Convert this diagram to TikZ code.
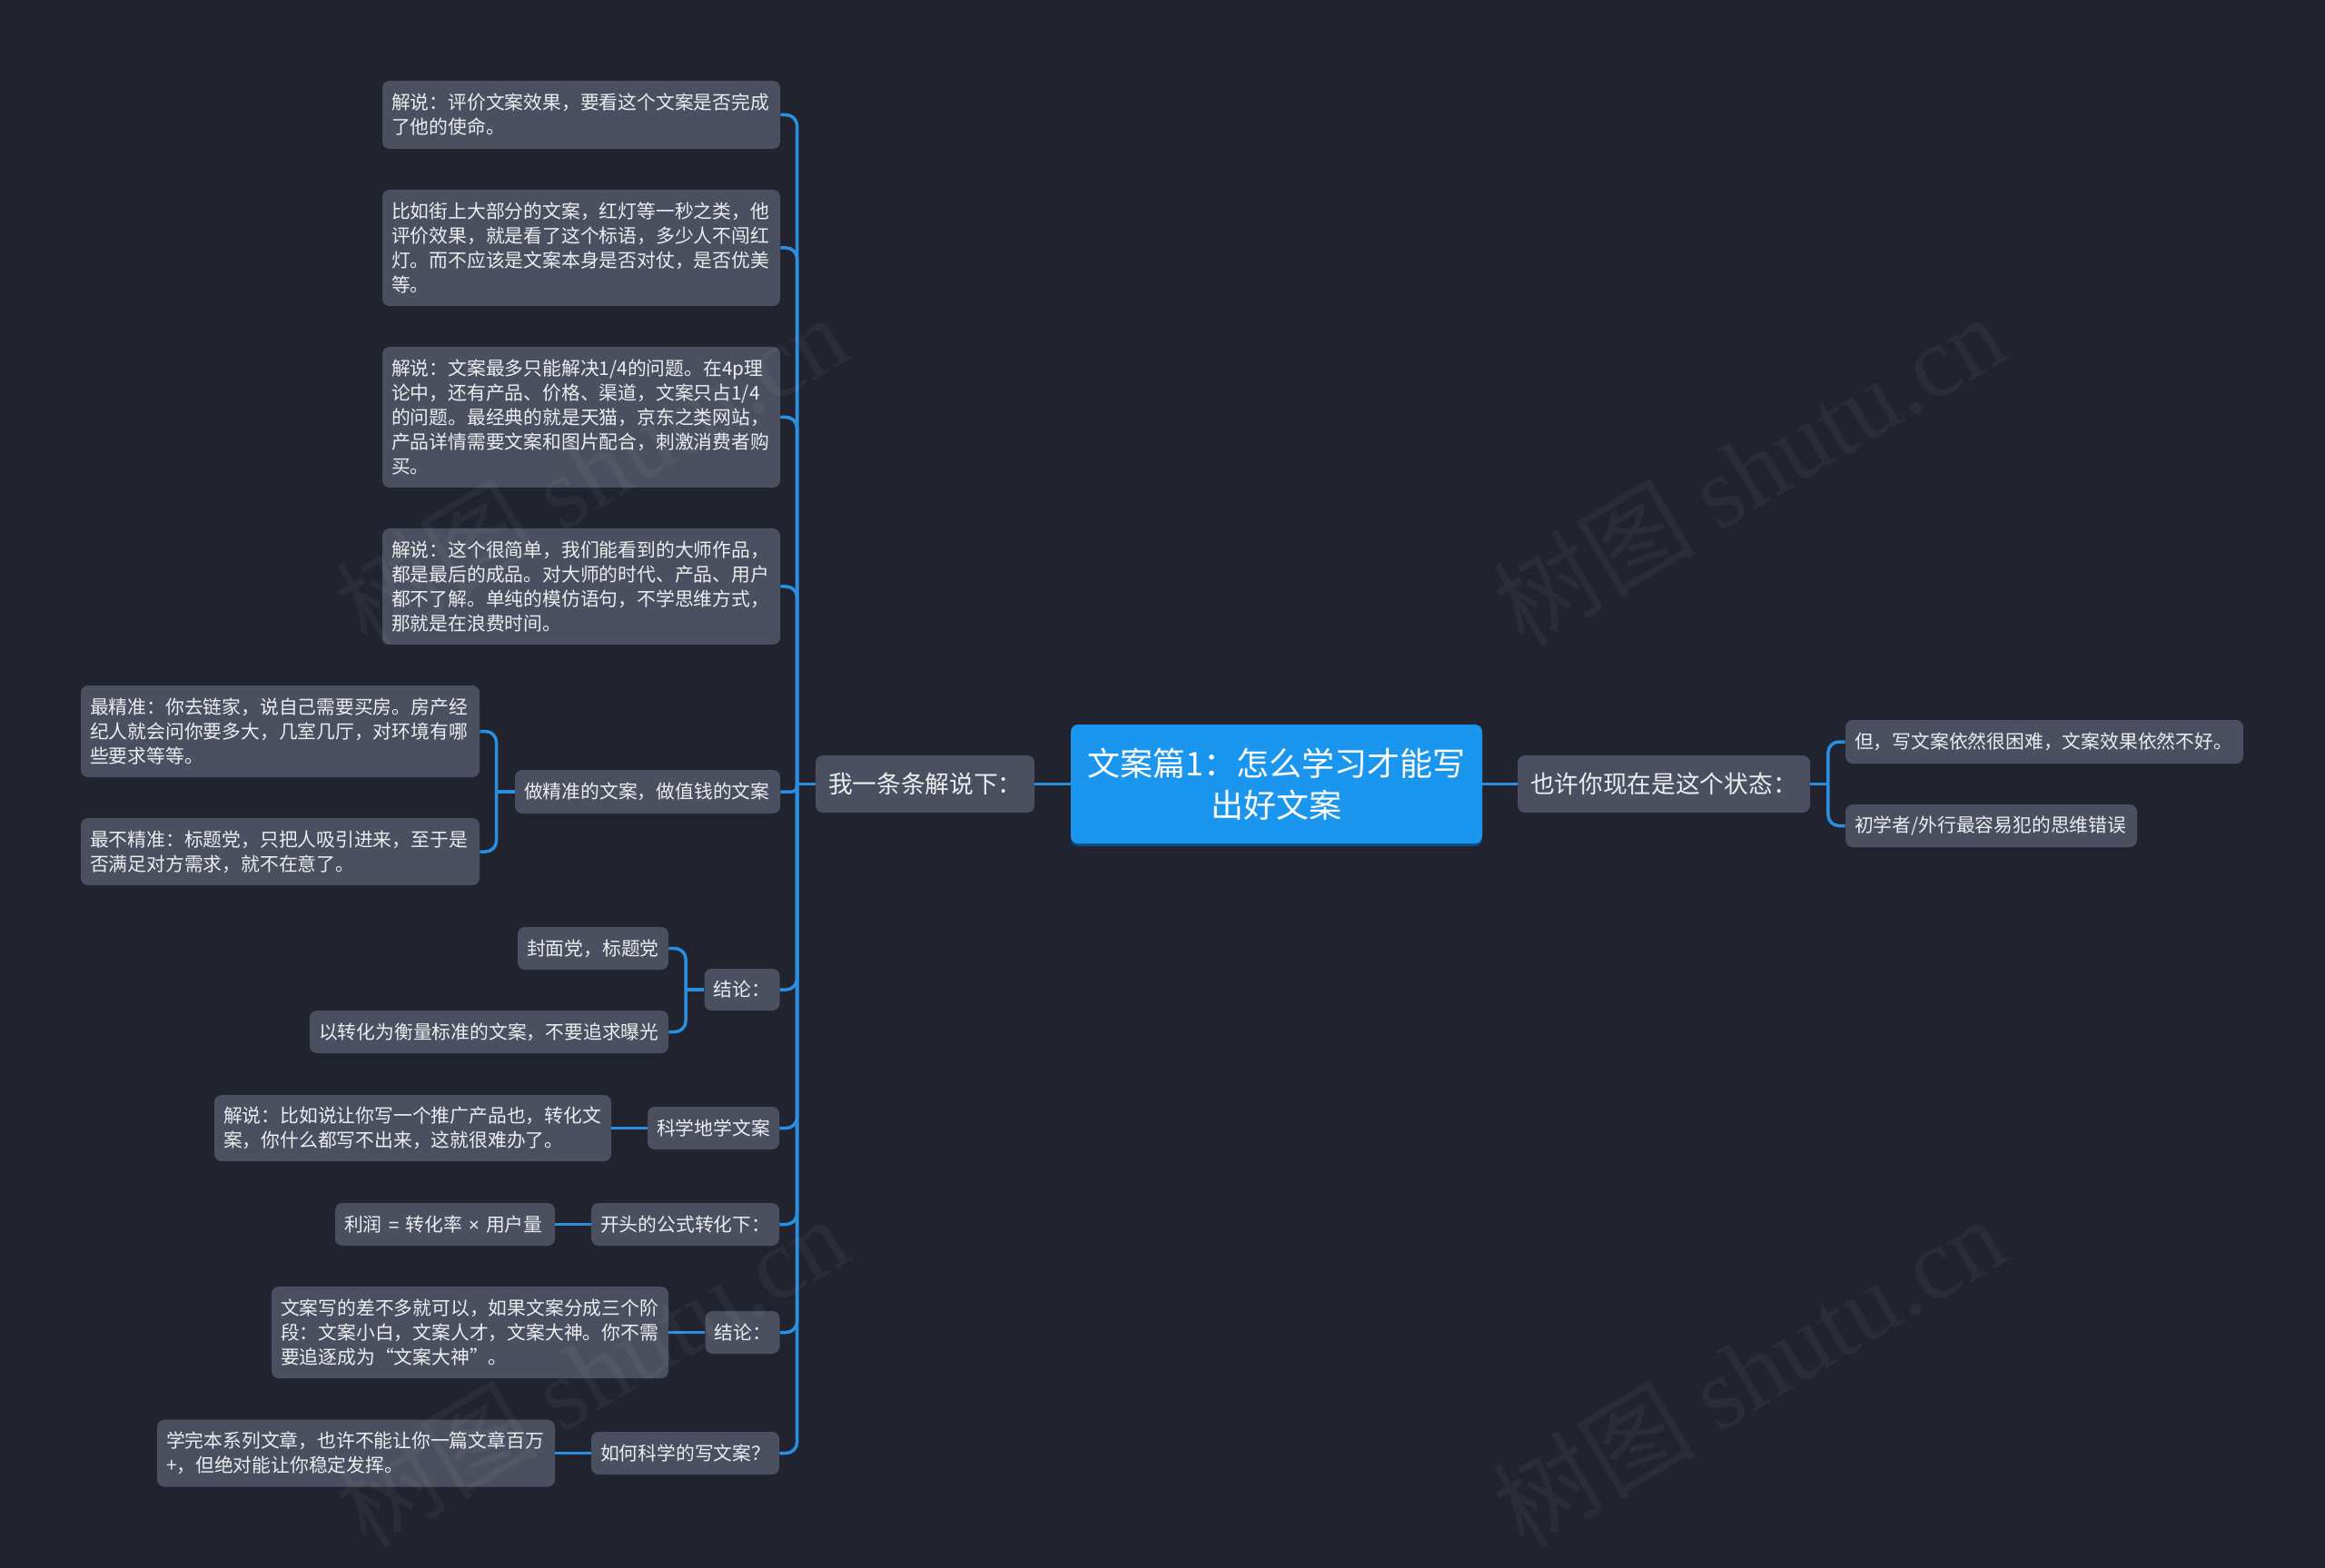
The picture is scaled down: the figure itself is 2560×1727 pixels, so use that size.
\documentclass[tikz,border=0pt]{standalone}
\usepackage{fontspec}
\setmainfont{Noto Sans CJK SC}
\newfontfamily\wmserif{Liberation Serif}
\newfontfamily\latinsans{Liberation Sans}
\usetikzlibrary{shadows}
\definecolor{bgc}{HTML}{21242F}
\definecolor{nodefill}{HTML}{4A505F}
\definecolor{rootfill}{HTML}{1B96EE}
\definecolor{rootshadow}{HTML}{0E4A80}
\definecolor{connc}{HTML}{2A8FE0}
\definecolor{txtc}{HTML}{ECEDEF}
\tikzset{
  leaf/.style={fill=nodefill, rounded corners=4pt, text=txtc,
    font=\fontsize{10.4}{13.5}\selectfont, align=left,
    inner xsep=5pt, inner ysep=0pt},
  midnode/.style={fill=nodefill, rounded corners=4pt, text=txtc,
    font=\fontsize{13.35}{17}\selectfont, align=left,
    inner xsep=7pt, inner ysep=0pt},
  rootnode/.style={fill=rootfill, rounded corners=4pt, text=white,
    font=\fontsize{18}{23}\selectfont, align=center,
    inner xsep=8.25pt, inner ysep=0pt,
    drop shadow={shadow xshift=0pt, shadow yshift=-1.5pt, fill=rootshadow, opacity=1}},
  conn/.style={draw=connc, line width=1.75pt, rounded corners=6pt},
  connsmall/.style={draw=connc, line width=1.75pt, rounded corners=3pt},
  wmark/.style={text=white, text opacity=0.045, font=\fontsize{56}{60}\selectfont, rotate=31, inner sep=0pt}
}
\begin{document}
\begin{tikzpicture}[x=0.5pt,y=-0.5pt]
\fill[bgc] (0,0) rectangle (2560,1727);
\useasboundingbox (0,0) rectangle (2560,1727);

% root and main branches
\node[rootnode, text width=210pt, minimum height=65.5pt] (root) at (1405.5,863.5) {文案篇1：怎么学习才能写\\出好文案};
\node[midnode, text width=106.5pt, minimum height=31.5pt] (M1) at (1018.5,863.5) {我一条条解说下：};
\node[midnode, text width=147pt, minimum height=31.5pt] (M2) at (1832,863.5) {也许你现在是这个状态：};

% right leaves
\node[leaf, text width=209pt, minimum height=24pt] (R1) at (2251,817) {但，写文案依然很困难，文案效果依然不好。};
\node[leaf, text width=150.5pt, minimum height=23.5pt] (R2) at (2192.5,909.5) {初学者/外行最容易犯的思维错误};

% left column leaves
\node[leaf, text width=209pt, minimum height=37.5pt] (L1) at (640,126.5) {解说：评价文案效果，要看这个文案是否完成\\了他的使命。};
\node[leaf, text width=209pt, minimum height=64pt] (L2) at (640,273) {比如街上大部分的文案，红灯等一秒之类，他\\评价效果，就是看了这个标语，多少人不闯红\\灯。而不应该是文案本身是否对仗，是否优美\\等。};
\node[leaf, text width=209pt, minimum height=77.5pt] (L3) at (640,459.5) {解说：文案最多只能解决1/4的问题。在4p理\\论中，还有产品、价格、渠道，文案只占1/4\\的问题。最经典的就是天猫，京东之类网站，\\产品详情需要文案和图片配合，刺激消费者购\\买。};
\node[leaf, text width=209pt, minimum height=64pt] (L4) at (640,646) {解说：这个很简单，我们能看到的大师作品，\\都是最后的成品。对大师的时代、产品、用户\\都不了解。单纯的模仿语句，不学思维方式，\\那就是在浪费时间。};

\node[leaf, text width=136pt, minimum height=24pt] (J1) at (713,872) {做精准的文案，做值钱的文案};
\node[leaf, text width=209.5pt, minimum height=50.5pt] (A1) at (308.5,805.5) {最精准：你去链家，说自己需要买房。房产经\\纪人就会问你要多大，几室几厅，对环境有哪\\些要求等等。};
\node[leaf, text width=209.5pt, minimum height=37pt] (A2) at (308.5,938) {最不精准：标题党，只把人吸引进来，至于是\\否满足对方需求，就不在意了。};

\node[leaf, text width=31.5pt, minimum height=23pt] (K1) at (817,1090) {结论：};
\node[leaf, text width=73pt, minimum height=23.5pt] (B1) at (653,1044.5) {封面党，标题党};
\node[leaf, text width=187.5pt, minimum height=23.5pt] (B2) at (538.5,1136.5) {以转化为衡量标准的文案，不要追求曝光};

\node[leaf, text width=62.5pt, minimum height=23.5pt] (K2) at (785.5,1242.5) {科学地学文案};
\node[leaf, text width=208.5pt, minimum height=36.5pt] (C1) at (454.5,1242.5) {解说：比如说让你写一个推广产品也，转化文\\案，你什么都写不出来，这就很难办了。};

\node[leaf, text width=93.5pt, minimum height=23.5pt] (K3) at (754.5,1348.5) {开头的公式转化下：};
\node[leaf, text width=111pt, minimum height=23.5pt] (D1) at (490,1348.5) {\makebox[111pt][l]{利润{\latinsans\ =\ }转化率{\latinsans\ ×\ }用户量}};

\node[leaf, text width=31pt, minimum height=23.5pt] (K4) at (817.5,1467.5) {结论：};
\node[leaf, text width=208.5pt, minimum height=50.5pt] (E1) at (517.5,1467.5) {文案写的差不多就可以，如果文案分成三个阶\\段：文案小白，文案人才，文案大神。你不需\\要追逐成为“文案大神”。};

\node[leaf, text width=93.5pt, minimum height=23.5pt] (K5) at (754.5,1600.5) {如何科学的写文案？};
\node[leaf, text width=209pt, minimum height=37pt] (F1) at (392,1600.5) {学完本系列文章，也许不能让你一篇文章百万\\+，但绝对能让你稳定发挥。};

% junction coordinates
\path (M1.west) -- ++(-20,0) coordinate (jL);
\path (M2.east) -- ++(19.5,0) coordinate (jR);
\path (J1.west) -- ++(-20,0) coordinate (jA);
\path (K1.west) -- ++(-20,0) coordinate (jB);

% connectors
\draw[conn] (root.west) -- (M1.east);
\draw[conn] (root.east) -- (M2.west);

\draw[conn] (M2.east) -- (jR);
\draw[conn] (jR) |- (R1.west);
\draw[conn] (jR) |- (R2.west);

\draw[conn] (M1.west) -- (jL);
\draw[conn] (jL) |- (L1.east);
\draw[conn] (jL) |- (L2.east);
\draw[conn] (jL) |- (L3.east);
\draw[conn] (jL) |- (L4.east);
\draw[connsmall] (jL) |- (J1.east);
\draw[conn] (jL) |- (K1.east);
\draw[conn] (jL) |- (K2.east);
\draw[conn] (jL) |- (K3.east);
\draw[conn] (jL) |- (K4.east);
\draw[conn] (jL) |- (K5.east);

\draw[conn] (J1.west) -- (jA);
\draw[conn] (jA) |- (A1.east);
\draw[conn] (jA) |- (A2.east);

\draw[conn] (K1.west) -- (jB);
\draw[conn] (jB) |- (B1.east);
\draw[conn] (jB) |- (B2.east);

\draw[conn] (K2.west) -- (C1.east);
\draw[conn] (K3.west) -- (D1.east);
\draw[conn] (K4.west) -- (E1.east);
\draw[conn] (K5.west) -- (K5.west -| F1.east);

% faint watermarks on top
\node[wmark] (wm1) at (651,517) {树图 {\wmserif shutu.cn}};
\node[wmark] (wm2) at (1925,517) {树图 {\wmserif shutu.cn}};
\node[wmark] (wm3) at (651,1510) {树图 {\wmserif shutu.cn}};
\node[wmark] (wm4) at (1925,1510) {树图 {\wmserif shutu.cn}};
\end{tikzpicture}
\end{document}
